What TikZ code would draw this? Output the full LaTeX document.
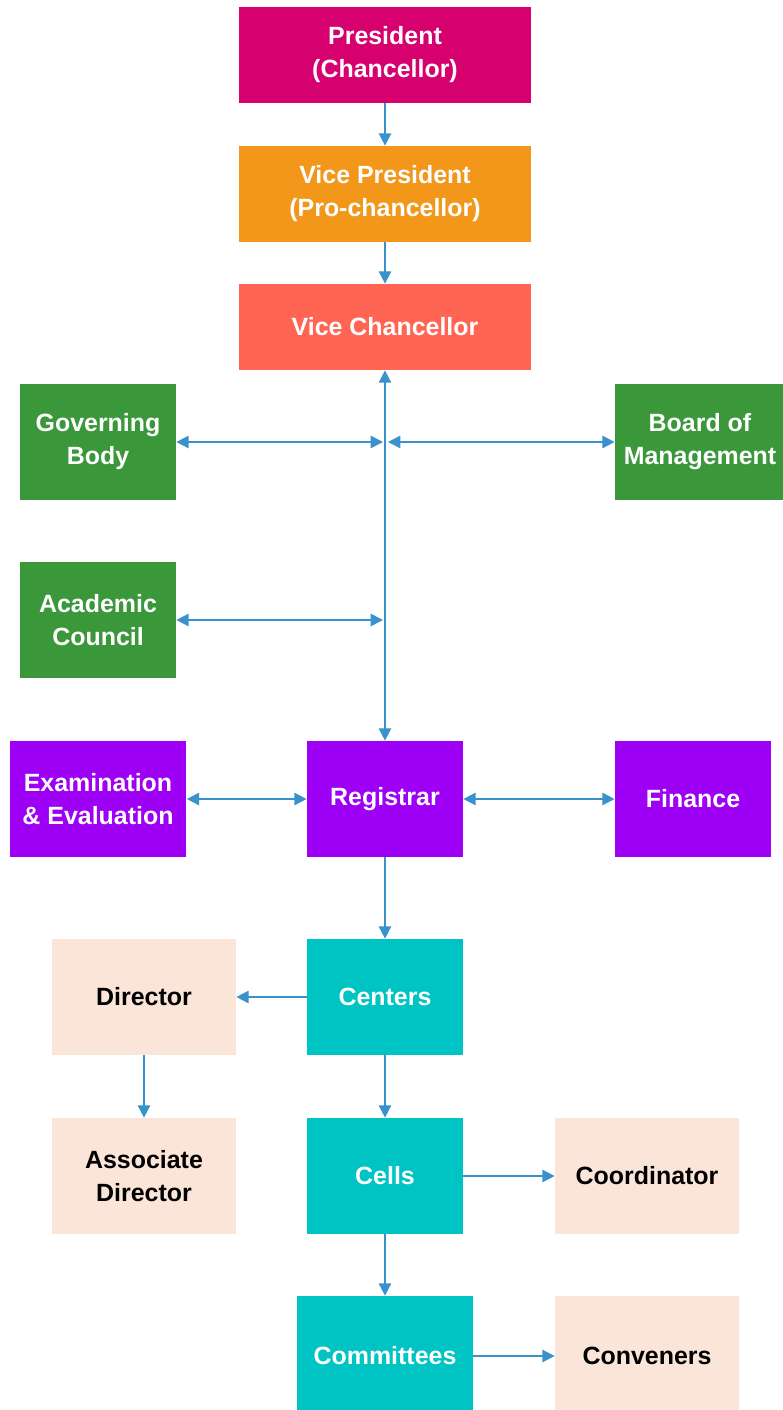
\documentclass[tikz,border=0pt]{standalone}
\usepackage{fontspec}
\setmainfont{Liberation Sans}
\usetikzlibrary{arrows.meta}
\tikzset{>={Triangle[length=7pt,width=7pt]}}
\definecolor{presmag}{HTML}{D6006F}
\definecolor{vporange}{HTML}{F2971A}
\definecolor{vcsalmon}{HTML}{FF6552}
\definecolor{govgreen}{HTML}{3A973A}
\definecolor{regpurple}{HTML}{9D00F5}
\definecolor{celteal}{HTML}{00C3C3}
\definecolor{dirpeach}{HTML}{FBE4D8}
\definecolor{linkblue}{HTML}{3A92CC}

\begin{document}
\begin{tikzpicture}[x=0.02cm,y=-0.02cm,
  box/.style={minimum width=3.12cm,minimum height=2.32cm,inner sep=2pt,align=center,
    text=white,font=\fontsize{14.2}{18.8}\selectfont\bfseries},
  topbox/.style={box,minimum width=5.86cm,minimum height=1.92cm},
  greenbox/.style={box,fill=govgreen},
  purplebox/.style={box,fill=regpurple},
  tealbox/.style={box,fill=celteal},
  peachbox/.style={box,fill=dirpeach,text=black,minimum width=3.68cm},
  link/.style={draw=linkblue,line width=0.9pt}]
\useasboundingbox (0,0) rectangle (782,1410);
\fill[white] (0,0) rectangle (782,1410);

\node[topbox,fill=presmag] (pres) at (385,55) {President\\(Chancellor)};
\node[topbox,fill=vporange] (vp) at (385,194) {Vice President\\(Pro-chancellor)};
\node[topbox,fill=vcsalmon,minimum height=1.72cm] (vc) at (385,327) {Vice Chancellor};

\node[greenbox] (gb) at (98,442) {Governing\\Body};
\node[greenbox,minimum width=3.4cm] (bm) at (700,442) {Board of\\Management};
\node[greenbox] (ac) at (98,620) {Academic\\Council};

\node[purplebox,minimum width=3.54cm] (ex) at (98,799) {Examination\\\& Evaluation};
\node[purplebox] (reg) at (385,799) {Registrar};
\node[purplebox] (fin) at (693,799) {Finance};

\node[tealbox] (cen) at (385,997) {Centers};
\node[peachbox] (dir) at (144,997) {Director};
\node[peachbox] (adir) at (144,1176) {Associate\\Director};
\node[tealbox] (cel) at (385,1176) {Cells};
\node[peachbox] (coo) at (647,1176) {Coordinator};
\node[tealbox,minimum width=3.52cm,minimum height=2.4cm] (com) at (385,1356) {Committees};
\node[peachbox,minimum height=2.4cm] (con) at (647,1356) {Conveners};

\coordinate (jgl) at (383,442);
\coordinate (jgr) at (388,442);
\coordinate (jac) at (383,620);

\draw[link,->] (pres) -- (vp);
\draw[link,->] (vp) -- (vc);
\draw[link,<->] (vc) -- (reg);
\draw[link,<->] (gb) -- (jgl);
\draw[link,<->] (jgr) -- (bm);
\draw[link,<->] (ac) -- (jac);
\draw[link,<->] (ex) -- (reg);
\draw[link,<->] (reg) -- (fin);
\draw[link,->] (reg) -- (cen);
\draw[link,->] (cen) -- (dir);
\draw[link,->] (dir) -- (adir);
\draw[link,->] (cen) -- (cel);
\draw[link,->] (cel) -- (coo);
\draw[link,->] (cel) -- (com);
\draw[link,->] (com) -- (con);
\end{tikzpicture}
\end{document}
